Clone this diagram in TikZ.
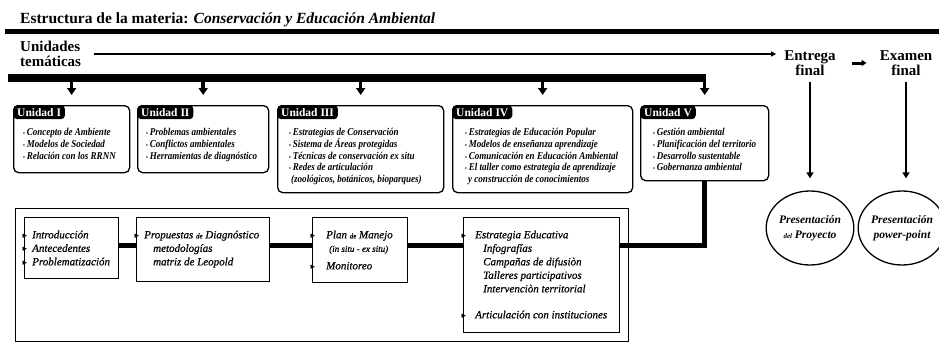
\documentclass[tikz,border=0pt]{standalone}
\usepackage{fontspec}
\setmainfont{Liberation Serif}
\newfontfamily\symfont{DejaVu Sans}
\newfontfamily\itemfont[FakeStretch=0.86]{Liberation Serif}
\newfontfamily\workfont[FakeBold=0.6]{Liberation Serif}
\usetikzlibrary{arrows.meta}
\usetikzlibrary{shapes.geometric}

\newcommand\ubul{{\fontsize{6}{6}\selectfont\textbullet}\,}
\newcommand\wmk[1]{\llap{\makebox[#1][l]{\hspace*{-1.5pt}\symfont\fontsize{9}{9}\selectfont ▸}}}
\newcommand\sml[1]{{\fontsize{7}{7}\selectfont #1}}

\tikzset{
  headtext/.style={inner sep=0pt,font=\fontsize{15}{15}\selectfont\bfseries},
  unitbox/.style={draw,line width=1.3pt,rounded corners=5pt,anchor=north west,inner sep=0pt},
  unittab/.style={fill=black,text=white,anchor=north west,rounded corners=4pt,inner xsep=4pt,inner ysep=0pt,minimum height=14pt,font=\fontsize{11.5}{11.5}\selectfont\bfseries},
  unititems/.style={anchor=north west,align=left,inner sep=0pt,font=\itemfont\fontsize{10.5}{11.8}\selectfont\bfseries\itshape},
  workbox/.style={draw,line width=1.2pt,anchor=north west,inner sep=0pt},
  workitems/.style={anchor=north west,align=left,inner sep=0pt,font=\workfont\fontsize{11}{13.5}\selectfont\itshape},
  finalnode/.style={draw,ellipse,line width=1.3pt,inner sep=0pt,align=center,font=\fontsize{11.5}{15}\selectfont\bfseries\itshape},
  bar/.style={line width=7.5pt},
  downarr/.style={line width=3.5pt,-{Triangle[length=7pt,width=9pt]}},
  finalarr/.style={line width=2.5pt,-{Triangle[length=6pt,width=7pt]},shorten <=6pt,shorten >=12pt},
  thinarr/.style={line width=2.2pt,-{Triangle[length=5pt,width=5pt]}},
  smallarr/.style={line width=3pt,-{Triangle[length=5pt,width=6pt]}},
  link/.style={line width=5pt},
}

\begin{document}
\begin{tikzpicture}[x=1pt,y=-1pt]
  \useasboundingbox (0,0) rectangle (939,351);

  \node[anchor=base west,inner sep=0pt,font=\fontsize{15.5}{15.5}\selectfont\bfseries] (title) at (20,23)
    {Estructura de la materia: \textit{Conservación y Educación Ambiental}};
  \draw[line width=5pt] (5,31.5) -- (939,31.5);

  \node[headtext,anchor=north west,align=left] (unid) at (20,41) {Unidades\\temáticas};
  \node[headtext,align=center] (entrega) at (810,63) {Entrega\\final};
  \node[headtext,align=center] (examen) at (906,63) {Examen\\final};
  \draw[thinarr,shorten <=13pt,shorten >=8pt] (unid.east) -- (unid.east -| entrega.west);
  \draw[smallarr,shorten <=16pt,shorten >=13pt] (entrega.east) -- (examen.west);

  \node[unitbox,minimum width=116pt,minimum height=67pt] (u1) at (13,105) {};
  \node[unitbox,minimum width=131pt,minimum height=67pt] (u2) at (137,105) {};
  \node[unitbox,minimum width=166pt,minimum height=87pt] (u3) at (277,105) {};
  \node[unitbox,minimum width=180pt,minimum height=87pt] (u4) at (452,105) {};
  \node[unitbox,minimum width=128pt,minimum height=75pt] (u5) at (640,105) {};
  \node[unittab] (u1tab) at (u1.north west) {Unidad I};
  \node[unittab] (u2tab) at (u2.north west) {Unidad II};
  \node[unittab] (u3tab) at (u3.north west) {Unidad III};
  \node[unittab] (u4tab) at (u4.north west) {Unidad IV};
  \node[unittab] (u5tab) at (u5.north west) {Unidad V};

  \node[unititems] (u1t) at (23,128) {\ubul Concepto de Ambiente\\ \ubul Modelos de Sociedad\\
    \ubul Relación con los RRNN};
  \node[unititems] (u2t) at (146,128) {\ubul Problemas ambientales\\ \ubul Conflictos ambientales\\
    \ubul Herramientas de diagnóstico};
  \node[unititems] (u3t) at (289,128) {\ubul Estrategias de Conservación\\ \ubul Sistema de Áreas protegidas\\
    \ubul Técnicas de conservación ex situ\\ \ubul Redes de articulación\\
    \hspace*{2pt}(zoológicos, botánicos, bioparques)};
  \node[unititems] (u4t) at (465,128) {\ubul Estrategias de Educación Popular\\ \ubul Modelos de enseñanza aprendizaje\\
    \ubul Comunicación en Educación Ambiental\\ \ubul El taller como estrategia de aprendizaje\\
    \hspace*{3pt}y construcción de conocimientos};
  \node[unititems] (u5t) at (653,128) {\ubul Gestión ambiental\\ \ubul Planificación del territorio\\
    \ubul Desarrollo sustentable\\ \ubul Gobernanza ambiental};

  \coordinate (barL) at (8,78);
  \draw[bar] (barL) -- ([xshift=1.75pt]barL -| u5.north);
  \foreach \u in {u1,u2,u3,u4,u5}
    \draw[downarr] (\u.north |- barL) -- ([yshift=10pt]\u.north);

  \node[workbox,minimum width=613pt,minimum height=133pt] (frame) at (15,208) {};
  \node[workbox,minimum width=94pt,minimum height=61pt] (b1) at (24,217) {};
  \node[workbox,minimum width=133pt,minimum height=64pt] (b2) at (136,217) {};
  \node[workbox,minimum width=95pt,minimum height=65pt] (b3) at (312,217) {};
  \node[workbox,minimum width=156pt,minimum height=115pt] (b4) at (463,217) {};

  \node[workitems] (b1t) at (32,230.5) {\wmk{8pt}Introducción\\ \wmk{8pt}Antecedentes\\
    \wmk{8pt}Problematización};
  \node[workitems] (b2t) at (144,230.5) {\wmk{8pt}Propuestas \sml{de} Diagnóstico\\
    \hspace*{9pt}metodologías\\ \hspace*{9pt}matriz de Leopold};
  \node[workitems] (b3t) at (326,230.5) {\wmk{14pt}Plan \sml{de} Manejo\\
    \hspace*{3pt}{\fontsize{9}{9}\selectfont(in situ - ex situ)}\\[4pt] \wmk{14pt}Monitoreo};
  \node[workitems] (b4t) at (475,230.5) {\wmk{12pt}Estrategia Educativa\\ \hspace*{8pt}Infografías\\
    \hspace*{8pt}Campañas de difusiòn\\ \hspace*{8pt}Talleres participativos\\
    \hspace*{8pt}Intervenciòn territorial\\[12.5pt] \wmk{12pt}Articulación con instituciones};

  \coordinate (lk) at (0,245);
  \draw[link] (b1.east |- lk) -- (b2.west |- lk);
  \draw[link] (b2.east |- lk) -- (b3.west |- lk);
  \draw[link] (b3.east |- lk) -- (b4.west |- lk);
  \draw[link] (b4.east |- lk) -| (u5.south);

  \node[finalnode,minimum width=76pt,minimum height=74pt] (pres1) at (810,228)
    {Presentación\\\sml{del} Proyecto};
  \node[finalnode,minimum width=72pt,minimum height=74pt] (pres2) at (902,228)
    {Presentación\\power-point};
  \draw[finalarr] (entrega.south) -- (entrega.south |- pres1.north);
  \draw[finalarr] (examen.south) -- (examen.south |- pres2.north);
\end{tikzpicture}
\end{document}
